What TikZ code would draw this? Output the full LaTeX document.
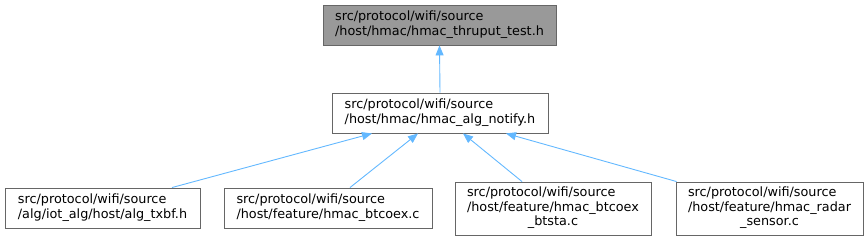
\documentclass[tikz,border=0pt]{standalone}
\usepackage{fontspec}
\setmainfont{DejaVu Sans}
\usetikzlibrary{arrows.meta}
\definecolor{edgeblue}{HTML}{63B8FF}
\definecolor{boxborder}{HTML}{666666}
\definecolor{topfill}{HTML}{999999}
\tikzset{
  filebox/.style={draw=boxborder, line width=0.9pt, fill=white, inner sep=0pt, font=\fontsize{12.8}{14.5}\selectfont},
  curbox/.style={filebox, fill=topfill},
  dep/.style={draw=edgeblue, line width=0.9pt, -{Triangle[length=10pt,width=8pt]}},
}
\newcommand{\twol}[2]{\begin{tabular}{@{}l@{}}#1\\#2\end{tabular}}
\newcommand{\threel}[3]{\begin{tabular}{@{}l@{}}#1\\#2\\\multicolumn{1}{@{}c@{}}{#3}\end{tabular}}
\begin{document}
\begin{tikzpicture}[x=1pt,y=-1pt]
\useasboundingbox (0,0) rectangle (868,241);
\node[curbox, minimum width=233pt, minimum height=40pt] (top) at (439.5,25) {\twol{src/protocol/wifi/source}{/host/hmac/hmac\_thruput\_test.h}};
\node[filebox, minimum width=216pt, minimum height=40pt] (mid) at (440,113) {\twol{src/protocol/wifi/source}{/host/hmac/hmac\_alg\_notify.h}};
\node[filebox, minimum width=195pt, minimum height=40pt] (b1) at (102.5,208) {\twol{src/protocol/wifi/source}{/alg/iot\_alg/host/alg\_txbf.h}};
\node[filebox, minimum width=208pt, minimum height=40pt] (b2) at (328,208) {\twol{src/protocol/wifi/source}{/host/feature/hmac\_btcoex.c}};
\node[filebox, minimum width=196pt, minimum height=53pt] (b3) at (553,208.5) {\threel{src/protocol/wifi/source}{/host/feature/hmac\_btcoex}{\_btsta.c}};
\node[filebox, minimum width=187pt, minimum height=53pt] (b4) at (769.5,208.5) {\threel{src/protocol/wifi/source}{/host/feature/hmac\_radar}{\_sensor.c}};
\draw[dep] (mid.north) -- (top.south);
\draw[dep] ([xshift=69.5pt]b1.north) -- ([xshift=-68pt]mid.south);
\draw[dep] ([xshift=22pt]b2.north) -- ([xshift=-22pt]mid.south);
\draw[dep] ([xshift=-31pt]b3.north) -- ([xshift=23pt]mid.south);
\draw[dep] ([xshift=1pt]b4.north west) -- ([xshift=66pt]mid.south);
\end{tikzpicture}
\end{document}
